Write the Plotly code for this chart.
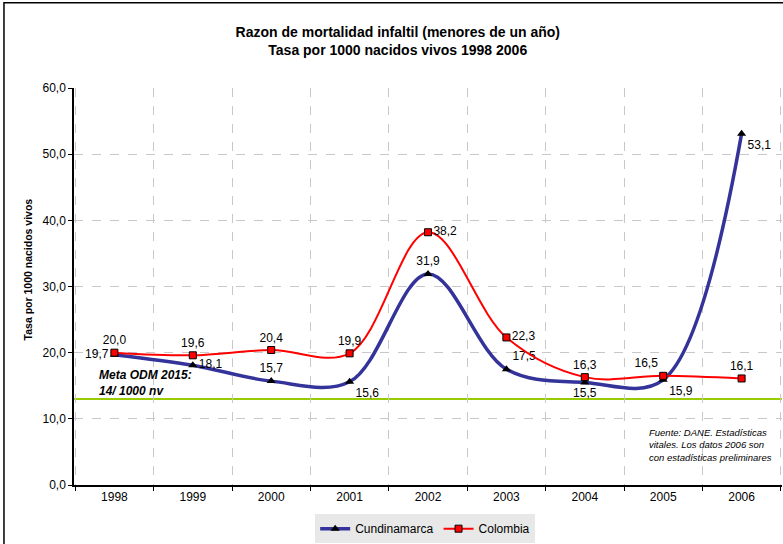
import plotly.graph_objects as go

years = ["1998", "1999", "2000", "2001", "2002", "2003", "2004", "2005", "2006"]
cundinamarca = [19.7, 18.1, 15.7, 15.6, 31.9, 17.5, 15.5, 15.9, 53.1]
colombia = [20.0, 19.6, 20.4, 19.9, 38.2, 22.3, 16.3, 16.5, 16.1]
meta_line = 13.0

cund_pos = ["middle left", "middle right", "top center", "bottom right", "top center",
            "top right", "bottom center", "bottom right", "bottom right"]
col_pos = ["top center", "top center", "top center", "top center", "middle right",
           "middle right", "top center", "top left", "top center"]

def fmt(v):
    return f"{v:.1f}".replace(".", ",")

FONT = "Liberation Sans, Arial, sans-serif"

fig = go.Figure()
fig.add_trace(go.Scatter(
    x=years, y=cundinamarca, name="Cundinamarca",
    mode="lines+markers+text",
    line=dict(color="#333399", width=3.5, shape="spline", smoothing=1),
    marker=dict(symbol="triangle-up", size=8, color="#000000"),
    text=[fmt(v) for v in cundinamarca], textposition=cund_pos,
    textfont=dict(size=12, color="#000000", family=FONT),
    cliponaxis=False,
))
fig.add_trace(go.Scatter(
    x=years, y=colombia, name="Colombia",
    mode="lines+markers+text",
    line=dict(color="#ff0000", width=2, shape="spline", smoothing=1),
    marker=dict(symbol="square", size=7, color="#ff0000", line=dict(color="#000000", width=1)),
    text=[fmt(v) for v in colombia], textposition=col_pos,
    textfont=dict(size=12, color="#000000", family=FONT),
    cliponaxis=False,
))

fig.add_shape(type="line", xref="paper", x0=0, x1=1, yref="y", y0=meta_line, y1=meta_line,
              line=dict(color="#99cc00", width=2), layer="below")

# outer frame
fig.add_shape(type="rect", xref="paper", yref="paper", x0=-0.0989, x1=1.05, y0=-0.2, y1=1.2145,
              line=dict(color="#000000", width=1.5))

# y axis title
fig.add_annotation(xref="paper", yref="paper", x=-0.065, y=0.543, xanchor="center", yanchor="middle",
                   text="<b>Tasa por 1000 nacidos vivos</b>", textangle=-90, showarrow=False,
                   font=dict(size=10.5, color="#000000", family=FONT))

fig.add_annotation(xref="paper", yref="paper", x=0.032, y=0.257, xanchor="left", yanchor="middle",
                   text="<b><i>Meta ODM 2015:<br>14/ 1000 nv</i></b>", showarrow=False, align="left",
                   font=dict(size=12, color="#000000", family=FONT))
fig.add_annotation(xref="paper", yref="paper", x=0.81, y=0.102, xanchor="left", yanchor="middle",
                   text="<i>Fuente: DANE. Estadísticas<br>vitales. Los datos 2006 son<br>con estadísticas preliminares</i>",
                   showarrow=False, align="left",
                   font=dict(size=9.5, color="#000000", family=FONT))

fig.update_layout(
    width=783, height=544,
    margin=dict(l=74, r=1, t=88, b=55),
    paper_bgcolor="white", plot_bgcolor="white",
    separators=",.",
    font=dict(family=FONT, size=12, color="#000000"),
    title=dict(text="<b>Razon de mortalidad infaltil (menores de un año)<br>Tasa por 1000 nacidos vivos 1998 2006</b>",
               x=0.508, xanchor="center", y=0.932, yanchor="middle",
               font=dict(size=14, family=FONT, color="#000000")),
    showlegend=True,
    legend=dict(orientation="h", x=0.496, xanchor="center", y=-0.11, yanchor="middle",
                bgcolor="#e8e8e8", font=dict(size=12, family=FONT), itemwidth=30,
                tracegroupgap=0),
    xaxis=dict(type="category", showline=True, linecolor="#000000", linewidth=1.5,
               tickson="boundaries", ticks="outside", ticklen=4, tickcolor="#000000",
               showgrid=True, gridcolor="#c8c8c8", griddash="dash", gridwidth=1,
               tickfont=dict(size=12), mirror=False, automargin=False),
    yaxis=dict(range=[0, 60], dtick=10, tickformat=".1f", showline=True, linecolor="#000000",
               linewidth=1.5, ticks="outside", ticklen=4, tickcolor="#000000",
               showgrid=True, gridcolor="#c8c8c8", griddash="dash", gridwidth=1,
               zeroline=False, tickfont=dict(size=12), automargin=False),
)

fig.write_html("out.html", config={"displayModeBar": False},
               post_script="document.body.style.margin='0px';")
